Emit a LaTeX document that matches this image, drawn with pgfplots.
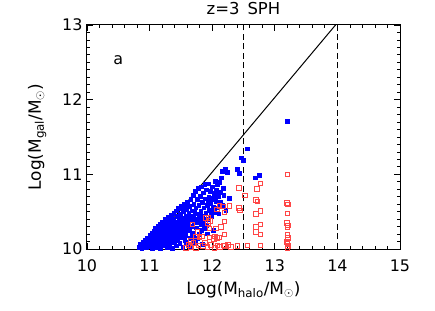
\documentclass[border=0pt]{standalone}
\usepackage{fontspec}
\setmainfont{DejaVu Sans}
\usepackage{pgfplots}
\pgfplotsset{compat=1.18}
\definecolor{lred}{RGB}{255,70,70}
\begin{document}
\begin{tikzpicture}
\useasboundingbox (-87bp,-62bp) rectangle (348bp,249bp);
\begin{axis}[
  at={(0,0)}, anchor=south west,
  scale only axis, width=313bp, height=224bp,
  xmin=10, xmax=15, ymin=10, ymax=13,
  xtick={10,11,12,13,14,15}, ytick={10,11,12,13},
  minor x tick num=4, minor y tick num=9,
  major tick length=6bp, minor tick length=3bp,
  tick style={black, line width=0.8bp},
  axis line style={line width=1bp},
  /pgf/number format/assume math mode=true,
  ticklabel style={font=\fontsize{16}{18}\selectfont},
  xticklabel style={yshift=-7bp},
  yticklabel style={xshift=-1bp},
  label style={font=\fontsize{17}{19}\selectfont},
  xlabel={Log(M\textsubscript{halo}/M\textsubscript{$\odot$})},
  ylabel={Log(M\textsubscript{gal}/M\textsubscript{$\odot$})},
  xlabel style={yshift=-3bp},
  ylabel style={yshift=9bp},
  title={z=3\, SPH},
  title style={font=\fontsize{16.5}{18}\selectfont, yshift=1bp},
  clip=false,
]
% blue filled squares
\addplot[only marks, mark=square*, mark size=1.9bp, color=blue, mark options={fill=blue, line width=0pt}] coordinates {
(10.84,10.02)(10.86,10.06)(10.88,10.01)(10.90,10.09)(10.92,10.04)(10.93,10.11)(10.95,10.02)(10.96,10.07)(10.97,10.14)(10.99,10.03)
(11.00,10.10)(11.01,10.18)(11.02,10.06)(11.03,10.13)(11.04,10.01)(11.045,10.21)(11.05,10.09)(11.06,10.16)(11.07,10.04)(11.075,10.24)
(11.08,10.12)(11.09,10.19)(11.095,10.07)(11.10,10.27)(11.11,10.02)(11.115,10.15)(11.12,10.22)(11.13,10.10)(11.135,10.30)(11.14,10.05)
(11.15,10.18)(11.155,10.25)(11.16,10.13)(11.17,10.33)(11.175,10.01)(11.18,10.08)(11.19,10.21)(11.195,10.28)(11.20,10.16)(11.21,10.36)
(11.215,10.04)(11.22,10.11)(11.23,10.24)(11.24,10.31)(11.245,10.19)(11.25,10.39)(11.255,10.07)(11.26,10.14)(11.27,10.27)(11.28,10.02)
(11.285,10.34)(11.29,10.22)(11.30,10.42)(11.305,10.10)(11.31,10.17)(11.32,10.29)(11.325,10.05)(11.33,10.37)(11.34,10.24)(11.345,10.45)
(11.35,10.13)(11.36,10.20)(11.365,10.32)(11.37,10.01)(11.38,10.40)(11.385,10.27)(11.39,10.48)(11.40,10.09)(11.405,10.16)(11.41,10.35)
(11.42,10.23)(11.425,10.51)(11.43,10.04)(11.44,10.43)(11.445,10.30)(11.45,10.12)(11.46,10.19)(11.465,10.54)(11.47,10.38)(11.48,10.26)
(11.485,10.07)(11.49,10.46)(11.50,10.33)(11.505,10.57)(11.51,10.15)(11.52,10.22)(11.53,10.41)(11.535,10.02)(11.54,10.50)(11.55,10.29)
(11.56,10.60)(11.565,10.11)(11.57,10.37)(11.58,10.18)(11.585,10.53)(11.59,10.44)(11.60,10.25)(11.61,10.63)(11.62,10.06)(11.625,10.34)
(11.63,10.48)(11.64,10.57)(11.65,10.14)(11.655,10.41)(11.66,10.66)(11.67,10.30)(11.68,10.51)(11.69,10.21)(11.695,10.72)(11.70,10.44)
(11.71,10.60)(11.72,10.37)(11.73,10.09)(11.735,10.77)(11.74,10.55)(11.75,10.28)(11.76,10.66)(11.77,10.47)(11.78,10.81)(11.785,10.39)
(11.79,10.58)(11.80,10.19)(11.81,10.70)(11.82,10.50)(11.83,10.33)(11.835,10.83)(11.84,10.62)(11.85,10.43)(11.86,10.75)(11.87,10.55)
(11.88,10.27)(11.885,10.86)(11.89,10.67)(11.90,10.48)(11.91,10.79)(11.92,10.58)(11.93,10.39)(11.94,10.87)(11.95,10.69)(11.96,10.52)
(11.97,10.77)(11.98,10.61)(11.99,10.44)(12.00,10.83)(12.01,10.68)(12.02,10.56)(12.03,10.74)(12.04,10.49)(12.05,10.90)(12.06,10.64)
(12.07,10.79)(12.08,10.55)(12.09,10.86)(12.10,10.70)(12.11,10.47)(12.12,10.89)(12.13,10.62)(12.14,10.76)(12.15,10.95)(12.16,11.04)
(12.17,10.58)(12.18,10.81)(12.19,10.72)(12.21,11.06)(12.22,10.52)(12.25,11.02)(12.28,10.68)
(11.025,10.14)(11.065,10.11)(11.105,10.09)(11.145,10.23)(11.185,10.14)(11.225,10.18)(11.265,10.09)(11.275,10.20)(11.315,10.25)(11.335,10.08)
(11.355,10.28)(11.375,10.15)(11.395,10.21)(11.415,10.11)(11.435,10.27)(11.455,10.35)(11.475,10.16)(11.495,10.40)(11.515,10.29)(11.545,10.20)
(11.575,10.31)(11.595,10.09)(11.605,10.40)(11.645,10.27)(11.675,10.40)(11.705,10.15)(11.725,10.50)(11.755,10.35)(11.795,10.45)(11.825,10.25)
(11.865,10.38)(11.905,10.31)(11.945,10.62)(11.985,10.50)(12.045,10.66)(12.085,10.73)(12.115,10.59)
(11.66,10.03)(11.71,10.09)(11.77,10.14)(11.84,10.06)(11.93,10.20)(12.02,10.25)
(12.41,11.06)(12.43,11.01)(12.47,11.22)(12.50,11.19)(12.56,11.34)(12.69,10.95)(12.76,10.98)(13.20,11.71)
};
% red open squares
\addplot[only marks, mark=square, mark size=2.3bp, color=lred, mark options={line width=0.5bp}] coordinates {
(13.20,11.00)(13.19,10.62)(13.21,10.60)(13.20,10.48)(13.19,10.35)(13.21,10.32)(13.20,10.29)(13.20,10.19)(13.21,10.15)(13.19,10.10)(13.20,10.07)(13.21,10.04)(13.20,10.02)
(12.77,10.88)(12.71,10.81)(12.70,10.66)(12.72,10.64)(12.77,10.51)(12.70,10.47)(12.70,10.30)(12.77,10.33)(12.77,10.20)(12.70,10.23)(12.77,10.05)
(12.52,10.72)(12.56,10.05)(12.42,10.82)(12.42,10.55)(12.44,10.52)
(12.27,10.58)(12.17,10.57)(12.19,10.37)(12.14,10.30)(12.06,10.28)(12.19,10.20)(12.07,10.15)(12.02,10.14)(12.18,10.05)(12.20,10.04)(12.11,10.58)(12.07,10.53)(12.19,10.49)(12.08,10.16)(12.04,10.17)(12.10,10.16)
(11.90,10.42)(11.94,10.42)(11.93,10.35)(11.95,10.28)(11.76,10.23)(11.83,10.17)(11.95,10.16)(11.74,10.17)(11.68,10.33)(11.79,10.16)(11.96,10.38)
(11.62,10.06)(11.65,10.03)(11.70,10.08)(11.74,10.02)(11.78,10.05)(11.85,10.04)(11.88,10.08)(11.92,10.03)(11.98,10.06)(12.03,10.02)(12.08,10.05)(12.12,10.03)(12.25,10.06)(12.30,10.03)(11.66,10.11)(11.58,10.02)(12.40,10.04)
};
\addplot[black, line width=1bp] coordinates {(10.97,10) (13.97,13)};
\addplot[black, line width=1.2bp, dash pattern=on 6bp off 3.5bp] coordinates {(12.5,10) (12.5,13)};
\addplot[black, line width=1.2bp, dash pattern=on 6bp off 3.5bp] coordinates {(14,10) (14,13)};
\node[font=\fontsize{16}{18}\selectfont] at (axis cs:10.5,12.53) {a};
\end{axis}
\end{tikzpicture}
\end{document}
